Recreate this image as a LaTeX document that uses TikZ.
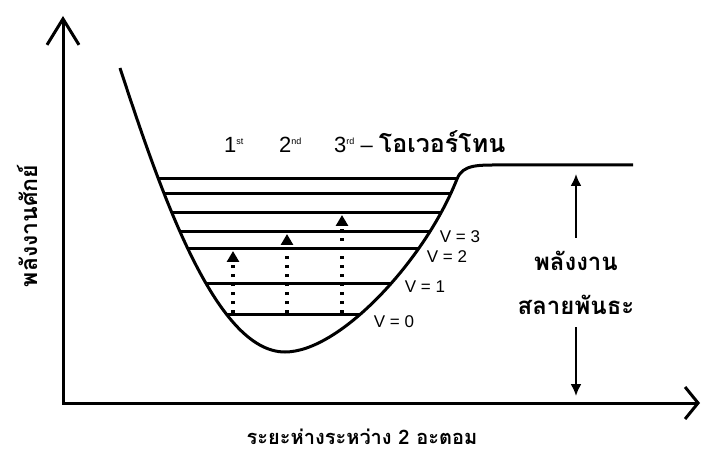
\documentclass[tikz,border=0pt]{standalone}
\usepackage{fontspec}
\setmainfont{Liberation Sans}
\newfontfamily\thaifont[Script=Thai]{Loma}
\usetikzlibrary{arrows.meta}

\begin{document}
\begin{tikzpicture}[x=1pt,y=1pt,yscale=-1,xscale=1,
  level/.style={line width=3pt},
  jump/.style={line width=3.4pt,dash pattern=on 3.4pt off 5.6pt,-{Triangle[length=11pt,width=12pt]}},
  dissoc/.style={line width=2pt,-{Latex[length=12pt,width=11pt]}},
  vlabel/.style={inner sep=0pt,font=\fontsize{17}{17}\selectfont},
  toplabel/.style={inner sep=0pt,font=\fontsize{22}{22}\selectfont},
  thailabel/.style={inner sep=0pt,font=\thaifont\bfseries\fontsize{24}{44}\selectfont}]
\useasboundingbox (0,0) rectangle (701,454);

%Axes
\coordinate (ytip) at (63,16);
\coordinate (origin) at (63,403);
\coordinate (xtip) at (700,403);
\draw [line width=3pt,line join=miter,{Straight Barb[length=26pt,width=32pt]}-{Straight Barb[length=13pt,width=32pt]}] (ytip) -- (origin) -- (xtip);

%Potential curve
\draw [line width=3pt] (120,68) .. controls (160,190) and (215,352) .. (285,352) .. controls (340,352) and (425,260) .. (457,179) .. controls (463,164) and (478,165) .. (505,165) -- (633,165);

%Levels
\begin{scope}
\clip (120,68) .. controls (160,190) and (215,352) .. (285,352) .. controls (340,352) and (425,260) .. (457,179) .. controls (463,164) and (478,165) .. (505,165) -- cycle;
\foreach \y in {179,194,213,232,249,283,314}
  \draw [level] (100,\y) -- (520,\y);
\end{scope}

%Overtone arrows
\foreach \x/\yt [count=\i] in {233/251,287/234,342/215} {
  \coordinate (jb\i) at (\x,313);
  \coordinate (jt\i) at (\x,\yt);
  \draw [jump] (jb\i) -- (jt\i);
}

% Text Node
\node [vlabel] (v0) at (394,322) {V = 0};
\node [vlabel] (v1) at (425,287) {V = 1};
\node [vlabel] (v2) at (447,257) {V = 2};
\node [vlabel] (v3) at (460,237) {V = 3};

% Text Node
\node [toplabel,anchor=base west] (first) at (224,153) {1\raisebox{8pt}{\fontsize{9}{9}\selectfont st}};
\node [toplabel,anchor=base west] (second) at (279,153) {2\raisebox{8pt}{\fontsize{9}{9}\selectfont nd}};
\node [toplabel,anchor=base west] (third) at (334,153) {3\raisebox{8pt}{\fontsize{9}{9}\selectfont rd} -- {\thaifont\bfseries\fontsize{25}{25}\selectfont โอเวอร์โทน}};

%Dissociation energy
\node [thailabel,align=center,minimum height=89pt] (de) at (576,282.5) {พลังงาน\\สลายพันธะ};
\coordinate (detop) at (576,174);
\coordinate (debot) at (576,396);
\draw [dissoc] (de.north) -- (detop);
\draw [dissoc] (de.south) -- (debot);

% Axis labels
\node [inner sep=0pt,anchor=base,text depth=1pt,font=\thaifont\bfseries\fontsize{20}{20}\selectfont] (xlab) at (362,444) {ระยะห่างระหว่าง 2 อะตอม};
\node [inner sep=0pt,anchor=base,rotate=90,font=\thaifont\bfseries\fontsize{23}{23}\selectfont] (ylab) at (37,226) {พลังงานศักย์};

\end{tikzpicture}
\end{document}
